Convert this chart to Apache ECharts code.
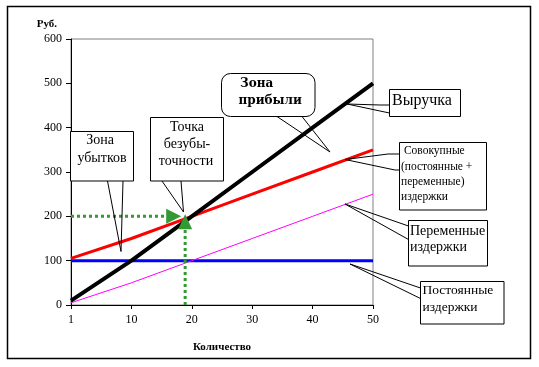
<!DOCTYPE html>
<html>
<head>
<meta charset="utf-8">
<script src="https://cdn.jsdelivr.net/npm/echarts@6/dist/echarts.min.js"></script>
<style>
html,body{margin:0;padding:0;background:#fff;}
#chart{width:539px;height:367px;}
</style>
</head>
<body>
<div id="chart"></div>
<script>
// ---- data ----
var categories = ['1', '10', '20', '30', '40', '50'];
var revenue = [10, 100, 200, 300, 400, 500];          // Выручка
var totalCosts = [105, 150, 200, 250, 300, 350];      // Совокупные издержки
var variableCosts = [5, 50, 100, 150, 200, 250];      // Переменные издержки
var fixedCosts = [100, 100, 100, 100, 100, 100];      // Постоянные издержки
var yTicks = [0, 100, 200, 300, 400, 500, 600];
// break-even guides (on a 0..50 quantity scale)
var guideH = [[0, 200], [17, 200]];    // horizontal dotted arrow
var guideV = [[18.9, 0], [18.9, 188]]; // vertical dotted arrow

var SERIF = '"Liberation Serif", "Times New Roman", serif';
var chart = echarts.init(document.getElementById('chart'), null, {renderer: 'canvas'});

function txt(t, x, y, size, opts) {
  opts = opts || {};
  var align = opts.align || 'left';
  return {
    type: 'text', z: 120,
    style: {
      text: t, x: x, y: y,
      font: (opts.bold ? 'bold ' : '') + size + 'px ' + (opts.family || SERIF),
      fill: '#000',
      align: align, verticalAlign: 'middle',
      textAlign: align, textVerticalAlign: 'middle'
    }
  };
}
function box(x, y, w, h, r) {
  return {type: 'rect', z: 110, shape: {x: x, y: y, width: w, height: h, r: r || 0},
    style: {fill: '#fff', stroke: '#000', lineWidth: 1}};
}
function wedge(pts) {
  return {type: 'polyline', z: 110, shape: {points: pts},
    style: {fill: null, stroke: '#000', lineWidth: 1}};
}

var graphics = [
  {type: 'rect', z: 100, shape: {x: 7.5, y: 6.5, width: 523, height: 352},
    style: {fill: null, stroke: '#000', lineWidth: 1.5}},
  // Зона убытков
  box(70.5, 131.5, 63, 49.5),
  wedge([[107.5, 181], [121, 251.5], [123, 181]]),
  txt('Зона', 100, 140, 14, {align: 'center'}),
  txt('убытков', 102, 158, 14, {align: 'center'}),
  // Точка безубыточности
  box(150.5, 117.5, 73, 63.5),
  wedge([[162, 181], [183.5, 212], [181, 181]]),
  txt('Точка', 187, 127, 14, {align: 'center'}),
  txt('безубы-', 187, 144, 14, {align: 'center'}),
  txt('точности', 186, 161, 14, {align: 'center'}),
  // Зона прибыли
  box(221.5, 73.5, 93.5, 43, 9),
  wedge([[277, 116.5], [330, 152], [302, 116.5]]),
  txt('Зона', 240, 83.5, 12, {bold: true, family: '"DejaVu Serif", serif'}),
  txt('прибыли', 238.5, 100.5, 12, {bold: true, family: '"DejaVu Serif", serif'}),
  // Выручка
  box(389.5, 89.5, 71, 27),
  wedge([[389.5, 105], [380, 105], [347, 104], [389.5, 113]]),
  txt('Выручка', 392, 101, 16),
  // Совокупные
  box(399.5, 142.5, 87, 67.5),
  wedge([[399.5, 154], [388, 154], [345, 159.5], [395, 170], [399.5, 170]]),
  txt(' Совокупные', 401, 151, 11.5),
  txt('(постоянные +', 401, 166.5, 11.5),
  txt('переменные)', 401, 181.5, 11.5),
  txt('издержки', 401, 196.5, 11.5),
  // Переменные издержки
  box(408.5, 220.5, 79, 45.5),
  wedge([[408.5, 226], [345, 204], [408.5, 239.5]]),
  txt('Переменные', 410, 231, 14),
  txt('издержки', 410, 247.5, 14),
  // Постоянные издержки
  box(420.5, 281.5, 83.5, 42.5),
  wedge([[420.5, 288], [350, 264], [420.5, 298.5]]),
  txt('Постоянные', 422.5, 290.5, 13.5),
  txt('издержки', 422.5, 307.5, 13.5)
];

function arrowData(pts, rotate, size) {
  return pts.map(function (p, i) {
    if (i === pts.length - 1) {
      return {value: p, symbol: 'triangle', symbolRotate: rotate, symbolSize: size};
    }
    return {value: p, symbol: 'none'};
  });
}

var option = {
  animation: false,
  backgroundColor: '#fff',
  grid: {left: 71, top: 39, width: 302, height: 266, show: true,
    borderColor: '#808080', borderWidth: 1, backgroundColor: 'transparent', containLabel: false},
  xAxis: [{
    type: 'category', data: categories, boundaryGap: false,
    axisLine: {show: true, lineStyle: {color: '#000', width: 1}},
    axisTick: {show: true, inside: false, length: 4, interval: 0, lineStyle: {color: '#000'}},
    axisLabel: {interval: 0, margin: 9, fontSize: 12, fontFamily: SERIF, color: '#000'},
    splitLine: {show: false},
    name: 'Количество', nameLocation: 'middle', nameGap: 37,
    nameTextStyle: {fontSize: 11, fontWeight: 'bold', fontFamily: SERIF, color: '#000'}
  }, {
    type: 'value', min: 0, max: 50, show: false
  }],
  yAxis: [{
    type: 'value', min: yTicks[0], max: yTicks[yTicks.length - 1], interval: 100,
    axisLine: {show: true, lineStyle: {color: '#000', width: 1}},
    axisTick: {show: true, inside: false, length: 5, lineStyle: {color: '#000'}},
    axisLabel: {margin: 9, fontSize: 12, fontFamily: SERIF, color: '#000'},
    splitLine: {show: false},
    name: 'Руб.', nameLocation: 'end', nameGap: 9,
    nameTextStyle: {fontSize: 11, fontWeight: 'bold', fontFamily: SERIF, color: '#000',
      align: 'right', padding: [0, 14, 0, 0]}
  }],
  series: [
    {name: 'Постоянные издержки', type: 'line', data: fixedCosts, symbol: 'none', silent: true,
      lineStyle: {color: '#0000ff', width: 3}},
    {name: 'Переменные издержки', type: 'line', data: variableCosts, symbol: 'none', silent: true,
      lineStyle: {color: '#ff00ff', width: 1}},
    {name: 'Совокупные издержки', type: 'line', data: totalCosts, symbol: 'none', silent: true,
      lineStyle: {color: '#ff0000', width: 3}},
    {name: 'Выручка', type: 'line', data: revenue, symbol: 'none', silent: true,
      lineStyle: {color: '#000000', width: 4}},
    {type: 'line', xAxisIndex: 1, data: arrowData(guideH, -90, [15, 15]), silent: true,
      showSymbol: true, z: 5,
      lineStyle: {color: '#339933', width: 3, type: [3, 3]},
      itemStyle: {color: '#339933', borderWidth: 0}},
    {type: 'line', xAxisIndex: 1, data: arrowData(guideV, 0, [14, 15]), silent: true,
      showSymbol: true, z: 5,
      lineStyle: {color: '#339933', width: 3, type: [3, 3]},
      itemStyle: {color: '#339933', borderWidth: 0}}
  ],
  graphic: graphics
};
chart.setOption(option);
</script>
</body>
</html>
